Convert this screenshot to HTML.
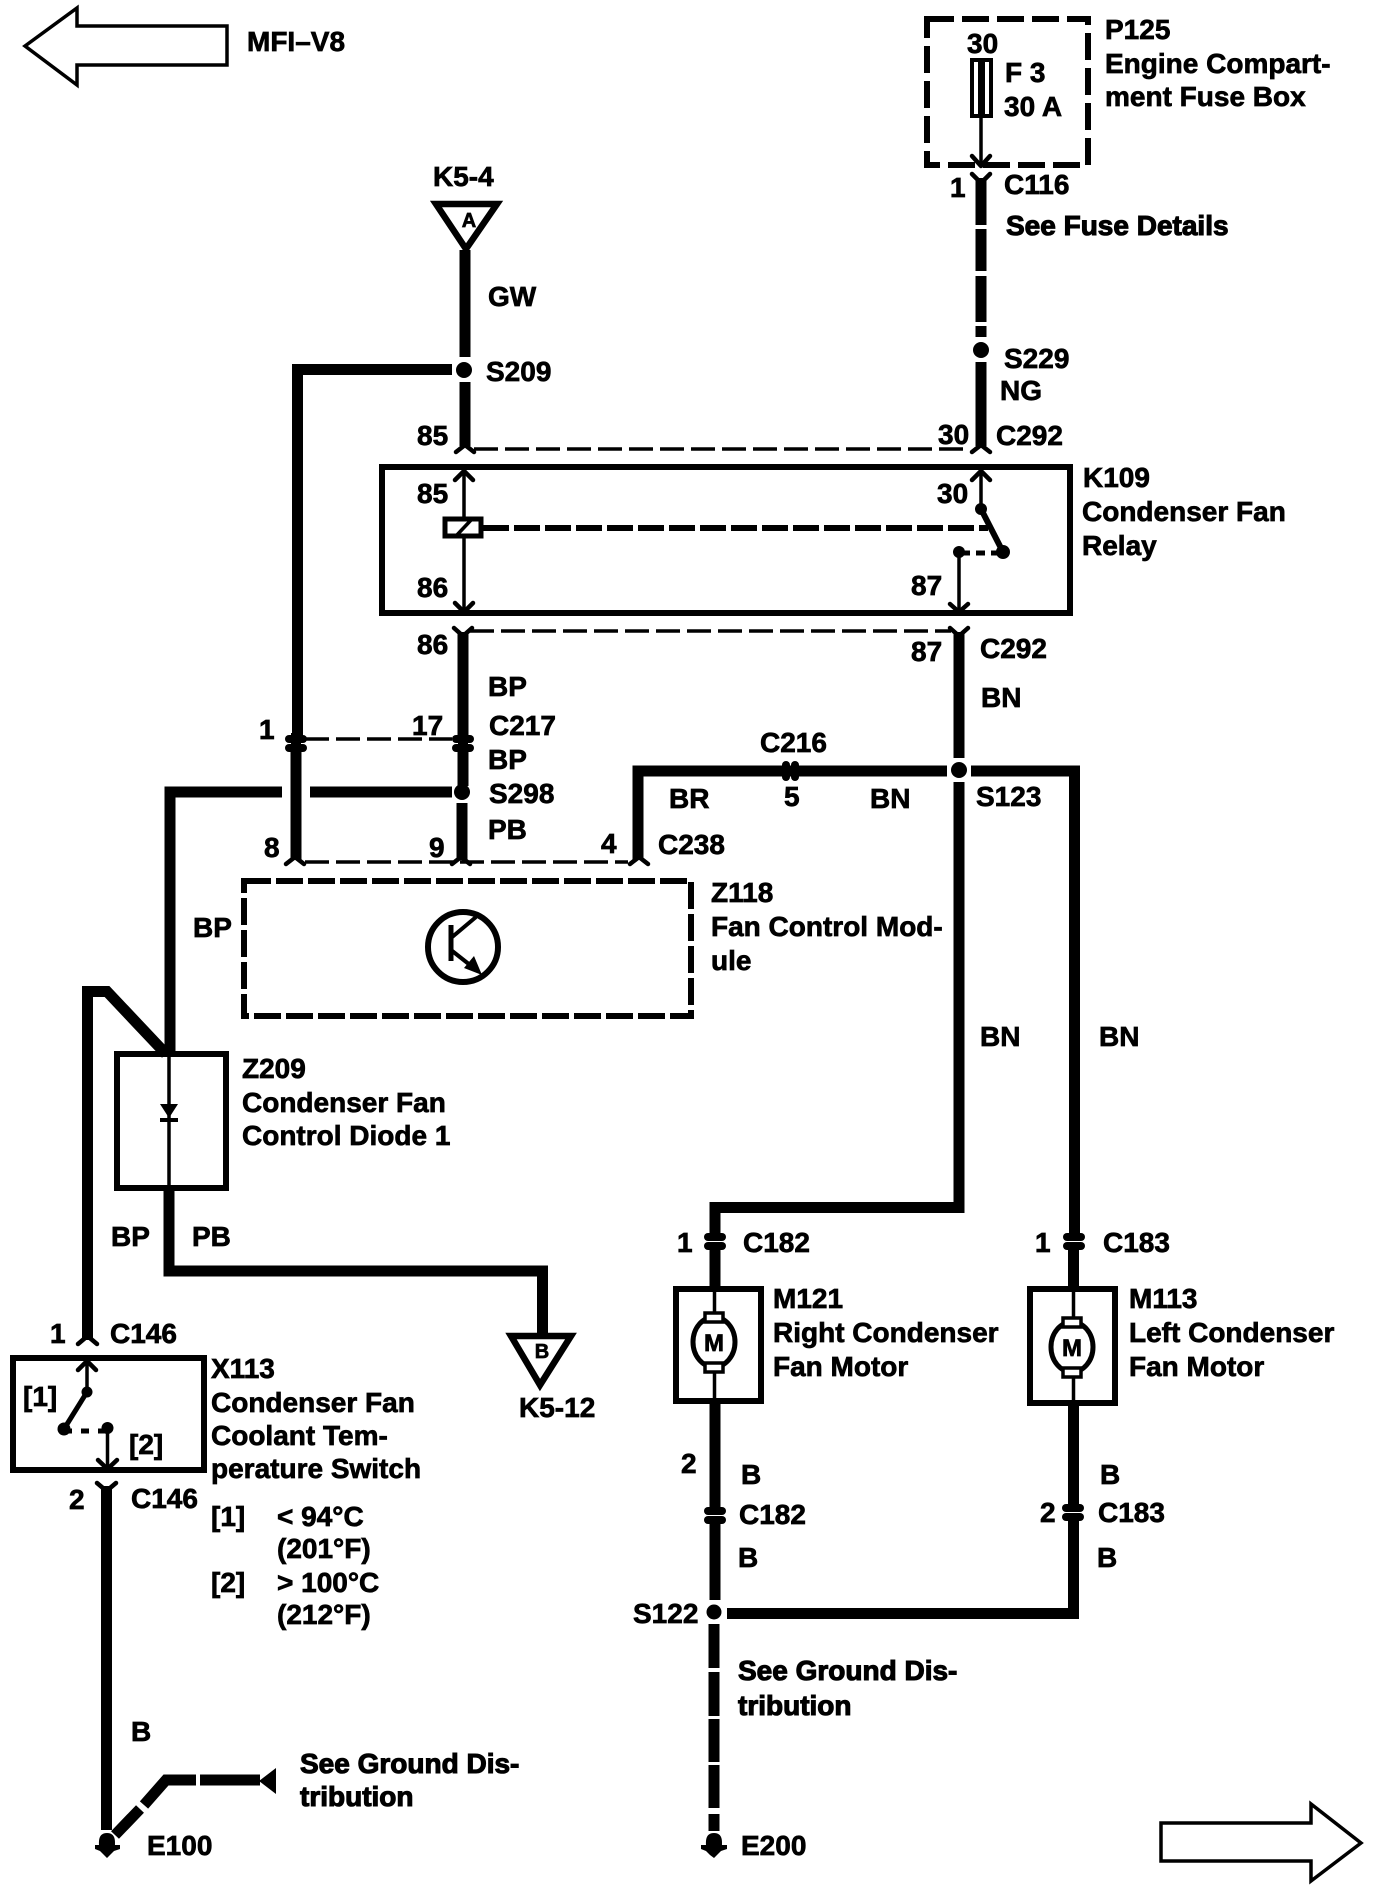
<!DOCTYPE html>
<html><head><meta charset="utf-8"><style>
html,body{margin:0;padding:0;background:#fff;width:1376px;height:1888px;overflow:hidden}
svg{display:block}
text{font-family:"Liberation Sans",sans-serif;font-weight:bold;font-size:28px;fill:#000;stroke:#000;stroke-width:.7}
.w{fill:none;stroke:#000;stroke-width:11}
.b{fill:none;stroke:#000;stroke-width:6}
.n{fill:none;stroke:#000;stroke-width:3.5}
.f{fill:none;stroke:#000;stroke-width:4.5;stroke-linejoin:round;stroke-linecap:round}
.d{fill:none;stroke:#000;stroke-width:3.5;stroke-dasharray:24 7}
.x{stroke-width:1.1}
</style></head><body>
<svg width="1376" height="1888" viewBox="0 0 1376 1888" xmlns="http://www.w3.org/2000/svg">
<!-- page arrows -->
<path d="M25 46L77 8V26H227V65H77V85Z" fill="none" stroke="#000" stroke-width="3.5" stroke-linejoin="miter"/>
<path d="M1161 1823H1311V1804L1361 1843L1311 1881V1861H1161Z" fill="none" stroke="#000" stroke-width="3.5"/>
<text x="247" y="51">MFI–V8</text>

<!-- off-page triangles -->
<path d="M436 204H497L466 249Z" fill="none" stroke="#000" stroke-width="6.5"/>
<text x="469" y="227" style="font-size:20px" text-anchor="middle">A</text>
<text x="433" y="186">K5-4</text>
<path d="M511 1336H571L540 1385Z" fill="none" stroke="#000" stroke-width="6.5"/>
<text x="542" y="1358" style="font-size:20px" text-anchor="middle">B</text>
<text x="519" y="1417">K5-12</text>

<!-- wires: left relay side -->
<path class="w" d="M465 250V357M465 382V446"/>
<path class="w" d="M452 369.500H297.500V738M296 748V860"/>
<circle cx="464" cy="370" r="8"/>
<path class="w" d="M463 632V738M463 748V786M462 803V860"/>
<path class="w" d="M452 792H310M282 792H170V1054"/>
<circle cx="462" cy="792" r="8"/>
<path class="w" d="M638 860V771H947M971 771H1074.500V1240"/>
<circle cx="959" cy="770" r="8"/>
<path class="w" d="M959 632V758M959 782V1207.500H715V1240"/>
<!-- fused feed -->
<path class="w" d="M981 178V225M981 229V271M981 276V322M981 326V337M981 362V446"/>
<circle cx="981" cy="350" r="8"/>
<!-- diode outputs -->
<path class="w" d="M169 1188V1271H542.500V1336"/>
<path class="w" d="M87.500 1340V991.500H107L166 1054"/>
<!-- switch out -->
<path class="w" d="M106.500 1486V1830"/>
<path class="w" d="M115 1835L140 1809M144 1805L166 1780H196M200 1780H260"/>
<path d="M259 1781L276 1768V1794Z"/>
<!-- motors -->
<path class="w" d="M715 1246V1287M715 1400V1508M715 1520V1600"/>
<path class="w" d="M1073.500 1246V1289M1073.500 1403V1506M1073.500 1518V1613.500H727"/>
<circle cx="714" cy="1612" r="7.500"/>
<path class="w" d="M714 1624V1668M714 1672V1716M714 1719V1762M714 1765V1808M714 1814V1831"/>

<!-- thin dashed connector bodies -->
<path class="d" d="M474 449H966"/>
<path class="d" d="M470 631H951"/>
<path class="d" d="M305 739H452"/>
<path class="d" d="M305 862H628"/>

<!-- connector forks -->
<g class="f">
<path class="f" d="M456 452L465 445L474 452"/><path class="f" d="M972 452L981 445L990 452"/>
<path class="f" d="M286 864L295 857L304 864"/><path class="f" d="M452 864L461 857L470 864"/><path class="f" d="M630 864L639 857L648 864"/>
<path class="f" d="M78 1344L87.500 1336L97 1344"/>
<path class="f" d="M454 628L463 636L472 628"/><path class="f" d="M950 628L959 636L968 628"/>
<path class="f" d="M972 174L981 183L990 174"/><path class="f" d="M97 1483L106.500 1491L116 1483"/>
</g>
<!-- inline connector blobs -->
<g>
<rect x="285" y="735" width="22" height="8" rx="4"/><rect x="285" y="744" width="22" height="8" rx="4"/><rect x="291" y="733" width="10" height="20"/>
<rect x="452" y="735" width="22" height="8" rx="4"/><rect x="452" y="744" width="22" height="8" rx="4"/><rect x="458" y="733" width="10" height="20"/>
<rect x="782" y="761" width="8" height="20" rx="4"/><rect x="791" y="761" width="8" height="20" rx="4"/>
<rect x="704" y="1233" width="22" height="8" rx="4"/><rect x="704" y="1242" width="22" height="8" rx="4"/>
<rect x="1063" y="1233" width="22" height="8" rx="4"/><rect x="1063" y="1242" width="22" height="8" rx="4"/>
<rect x="704" y="1507" width="22" height="8" rx="4"/><rect x="704" y="1516" width="22" height="8" rx="4"/>
<rect x="1062" y="1504" width="22" height="8" rx="4"/><rect x="1062" y="1513" width="22" height="8" rx="4"/>
</g>

<!-- P125 fuse box -->
<rect class="b" x="927" y="19" width="161" height="146" stroke-dasharray="27 8"/>
<path d="M970 58H993V118H970Z M974 62V114H978V62Z M985 62V114H989V62Z" fill="#000" fill-rule="evenodd"/>
<path class="n" d="M981 118V165"/>
<path class="f" d="M972 156L981 166L990 156"/>

<!-- K109 relay -->
<rect class="b" x="382" y="467" width="688" height="146"/>
<path class="n" d="M464 470V517M464 538V612"/>
<path class="f" d="M455 480L464 471L473 480"/><path class="f" d="M455 603L464 612L473 603"/>
<rect class="b" x="445" y="519" width="36" height="17" style="stroke-width:5"/>
<path class="n" d="M456 536L472 519"/>
<path d="M483 528H988" fill="none" stroke="#000" stroke-width="6" stroke-dasharray="26 5"/>
<path class="n" d="M981 470V508"/>
<path class="f" d="M972 480L981 471L990 480"/>
<circle cx="981" cy="509" r="6"/>
<path d="M981 509L1003 552" fill="none" stroke="#000" stroke-width="6"/>
<circle cx="1003" cy="552" r="7"/>
<path d="M1000 553H959" fill="none" stroke="#000" stroke-width="5" stroke-dasharray="9 6"/>
<circle cx="959" cy="552" r="6"/>
<path class="n" d="M959 552V612"/>
<path class="f" d="M950 604L959 612L968 604"/>

<!-- Z118 -->
<rect class="b" x="244" y="881" width="447" height="135" stroke-dasharray="27 5"/>
<circle cx="463" cy="947" r="35" fill="none" stroke="#000" stroke-width="6"/>
<path d="M451 925V961" fill="none" stroke="#000" stroke-width="5"/>
<path d="M451 938L476 917" fill="none" stroke="#000" stroke-width="4"/>
<path d="M451 950L470 965" fill="none" stroke="#000" stroke-width="4"/>
<path d="M482 975L464 968L474 956Z"/>

<!-- Z209 -->
<rect class="b" x="117" y="1054" width="109" height="134"/>
<path class="n" d="M169 1054V1188"/>
<path d="M160 1104H178L169 1118Z"/>
<path d="M160 1118H178V1122H160Z"/>

<!-- X113 -->
<rect class="b" x="13" y="1358" width="191" height="112"/>
<path class="n" d="M87 1362V1390"/>
<path class="f" d="M78 1370L87 1361L96 1370"/>
<circle cx="87" cy="1392" r="5.500"/>
<path d="M87 1392L64 1429" fill="none" stroke="#000" stroke-width="5"/>
<circle cx="64" cy="1429" r="6.500"/>
<path d="M64 1431H107" fill="none" stroke="#000" stroke-width="5" stroke-dasharray="8 9"/>
<circle cx="107.500" cy="1428" r="6"/>
<path class="n" d="M107.500 1428V1468"/>
<path class="f" d="M98 1460L107.500 1469L117 1460"/>

<!-- M121 -->
<rect class="b" x="676" y="1289" width="85" height="112"/>
<path class="n" d="M714.500 1289V1315M714.500 1370V1401"/>
<ellipse cx="714" cy="1342" rx="21" ry="25" fill="#fff" stroke="#000" stroke-width="5"/>
<rect x="705" y="1313" width="18" height="9" fill="#fff" stroke="#000" stroke-width="3.500"/>
<rect x="705" y="1363" width="18" height="9" fill="#fff" stroke="#000" stroke-width="3.500"/>
<text x="714" y="1351" style="font-size:24px" text-anchor="middle">M</text>

<!-- M113 -->
<rect class="b" x="1030" y="1289" width="85" height="114"/>
<path class="n" d="M1073.500 1289V1320M1073.500 1375V1403"/>
<ellipse cx="1072" cy="1347" rx="21" ry="25" fill="#fff" stroke="#000" stroke-width="5"/>
<rect x="1063" y="1318" width="18" height="9" fill="#fff" stroke="#000" stroke-width="3.500"/>
<rect x="1063" y="1368" width="18" height="9" fill="#fff" stroke="#000" stroke-width="3.500"/>
<text x="1072" y="1356" style="font-size:24px" text-anchor="middle">M</text>

<!-- ground symbols -->
<path d="M107 1833C98 1833 99 1842 99 1845H95V1849L100 1851L104 1855L107 1858L110 1855L114 1851L120 1849V1845H115C115 1842 116 1833 107 1833Z"/>
<path d="M714 1833C705 1833 706 1842 706 1845H701V1849L706 1851L710 1855L714 1858L717 1855L721 1851L727 1849V1845H722C722 1842 723 1833 714 1833Z"/>

<!-- labels -->
<text x="488" y="306">GW</text>
<text x="486" y="381">S209</text>
<text x="417" y="445">85</text>
<text x="417" y="503">85</text>
<text x="417" y="597">86</text>
<text x="417" y="654">86</text>
<text x="967" y="53">30</text>
<text x="1005" y="82">F 3</text>
<text x="1004" y="116">30 A</text>
<text x="1105" y="39">P125</text>
<text x="1105" y="73">Engine Compart-</text>
<text x="1105" y="106">ment Fuse Box</text>
<text x="950" y="197">1</text>
<text x="1004" y="194">C116</text>
<text class="x" x="1006" y="235">See Fuse Details</text>
<text x="1004" y="368">S229</text>
<text x="1000" y="400">NG</text>
<text x="938" y="444">30</text>
<text x="996" y="445">C292</text>
<text x="1083" y="487">K109</text>
<text x="1082" y="521">Condenser Fan</text>
<text x="1082" y="555">Relay</text>
<text x="937" y="503">30</text>
<text x="911" y="595">87</text>
<text x="911" y="661">87</text>
<text x="980" y="658">C292</text>
<text x="981" y="707">BN</text>
<text x="488" y="696">BP</text>
<text x="489" y="735">C217</text>
<text x="488" y="769">BP</text>
<text x="489" y="803">S298</text>
<text x="488" y="839">PB</text>
<text x="412" y="735">17</text>
<text x="259" y="739">1</text>
<text x="264" y="857">8</text>
<text x="429" y="857">9</text>
<text x="601" y="853">4</text>
<text x="658" y="854">C238</text>
<text x="669" y="808">BR</text>
<text x="760" y="752">C216</text>
<text x="784" y="806">5</text>
<text x="870" y="808">BN</text>
<text x="976" y="806">S123</text>
<text x="711" y="902">Z118</text>
<text x="711" y="936">Fan Control Mod-</text>
<text x="711" y="970">ule</text>
<text x="193" y="937">BP</text>
<text x="242" y="1078">Z209</text>
<text x="242" y="1112">Condenser Fan</text>
<text x="242" y="1145">Control Diode 1</text>
<text x="980" y="1046">BN</text>
<text x="1099" y="1046">BN</text>
<text x="111" y="1246">BP</text>
<text x="192" y="1246">PB</text>
<text x="677" y="1252">1</text>
<text x="743" y="1252">C182</text>
<text x="1035" y="1252">1</text>
<text x="1103" y="1252">C183</text>
<text x="50" y="1343">1</text>
<text x="110" y="1343">C146</text>
<text x="23" y="1406">[1]</text>
<text x="129" y="1454">[2]</text>
<text x="211" y="1378">X113</text>
<text x="211" y="1412">Condenser Fan</text>
<text x="211" y="1445">Coolant Tem-</text>
<text x="211" y="1478">perature Switch</text>
<text x="69" y="1509">2</text>
<text x="131" y="1508">C146</text>
<text x="211" y="1526">[1]</text>
<text x="277" y="1526">&lt; 94°C</text>
<text x="277" y="1558">(201°F)</text>
<text x="211" y="1592">[2]</text>
<text x="277" y="1592">&gt; 100°C</text>
<text x="277" y="1624">(212°F)</text>
<text x="131" y="1741">B</text>
<text class="x" x="300" y="1773">See Ground Dis-</text>
<text class="x" x="300" y="1806">tribution</text>
<text x="147" y="1855">E100</text>
<text x="773" y="1308">M121</text>
<text x="773" y="1342">Right Condenser</text>
<text x="773" y="1376">Fan Motor</text>
<text x="1129" y="1308">M113</text>
<text x="1129" y="1342">Left Condenser</text>
<text x="1129" y="1376">Fan Motor</text>
<text x="681" y="1473">2</text>
<text x="741" y="1484">B</text>
<text x="739" y="1524">C182</text>
<text x="738" y="1567">B</text>
<text x="633" y="1623">S122</text>
<text x="1100" y="1484">B</text>
<text x="1040" y="1522">2</text>
<text x="1098" y="1522">C183</text>
<text x="1097" y="1567">B</text>
<text class="x" x="738" y="1680">See Ground Dis-</text>
<text class="x" x="738" y="1715">tribution</text>
<text x="741" y="1855">E200</text>
</svg>
</body></html>
